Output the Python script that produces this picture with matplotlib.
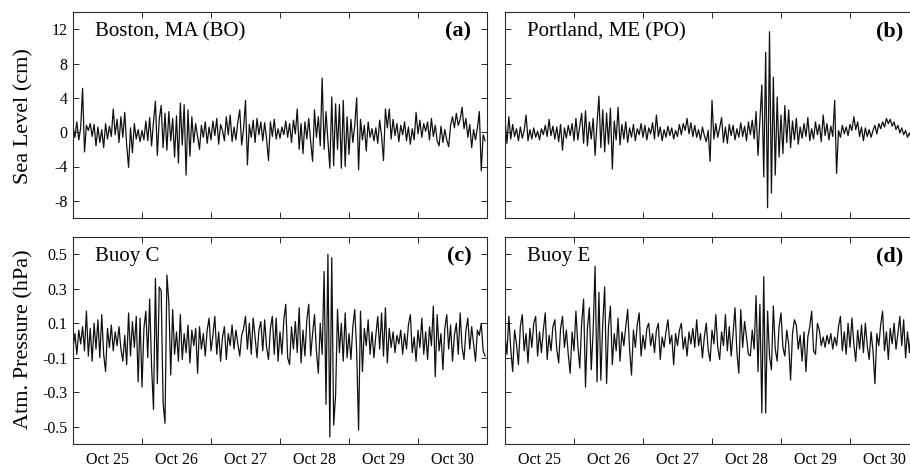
import numpy as np
import matplotlib
matplotlib.use("Agg")
import matplotlib.pyplot as plt

plt.rcParams['font.family'] = ['Liberation Serif', 'DejaVu Serif']
plt.rcParams['axes.unicode_minus'] = False

# Sampling: 36 samples per day, starting Oct 25 00:00
samples_per_day = 36
day_labels = ["Oct 25", "Oct 26", "Oct 27", "Oct 28", "Oct 29", "Oct 30"]

sea_boston = [
    0.8, -0.6, 1.2, -0.9, 0.5, 5.1, -2.3, 0.8, 0.2, 1.0, -0.5, 0.9, -1.6, 0.6, -1.2, 0.3, -1.8, 1.0,
    -0.8, 0.7, -0.5, 2.7, -0.3, 1.5, -1.2, 1.8, -0.6, 2.3, -1.5, -4.1, 0.5, -2.4, 1.0, -0.8, 0.3, -1.1,
    0.2, -0.9, 1.3, -1.0, 1.7, -1.6, 1.2, 3.6, -2.7, 1.5, 3.1, -1.8, 2.2, -2.1, 2.4, -1.0, 1.6, -2.9,
    1.9, -3.6, 3.4, -1.5, 3.2, -5.0, 2.6, -2.8, 1.8, -1.2, 1.0, -0.5, -2.0, 0.8, -0.6, 1.2, -1.3, 0.6,
    -0.9, 1.3, -0.4, 1.6, -1.4, 0.9, 0.2, -1.0, 1.8, -0.3, 2.0, -1.1, 0.6, -0.9, 1.2, 2.6, -1.5, 0.4,
    3.7, -3.8, 0.9, -0.6, 1.4, -1.2, 1.6, -0.3, 1.2, -1.0, 1.1, -0.8, -3.3, 1.2, -0.5, 1.5, -0.8, 0.4,
    -0.7, 0.6, -0.3, 1.3, -0.6, 1.0, -1.2, 1.4, -0.2, 2.7, -2.0, 1.0, -2.5, 1.2, -0.8, 1.6, -1.1, -3.4,
    2.6, -0.6, 1.8, -1.6, 6.3, -2.0, 2.4, -1.0, -4.2, 4.1, -3.9, 3.3, -2.0, 3.2, -4.2, 3.7, -4.0, 1.8,
    -2.6, 1.5, -1.2, 0.8, 4.0, -4.4, 1.5, -0.9, 0.8, -2.2, 1.2, -0.6, 0.4, -1.0, 0.5, -1.3, 1.4, -0.5,
    -3.3, 2.7, 0.5, 2.7, -0.8, 1.5, -0.4, 1.0, -1.1, 0.8, -0.3, 1.2, -1.0, 0.6, -1.4, 0.4, -0.9, 2.3,
    -0.2, 1.4, -0.6, 1.0, 0.1, 1.2, -0.9, 1.6, -0.5, 0.8, -1.0, -1.6, 0.7, -1.2, 0.3, -0.9, -1.7, 0.8,
    1.8, 0.5, 2.2, 0.8, 1.5, 2.9, 0.4, 1.6, -0.6, 0.9, -1.8, 0.3, -0.9, 0.5, 2.4, -4.5, -0.3, -1.0,
]

sea_portland = [
    1.5, -1.3, 1.8, -0.8, 0.9, -0.5, 0.4, -1.0, 0.6, -0.7, 0.2, 2.0, -1.0, 0.3, -0.8, 0.5, -0.6, 0.1,
    -0.9, 0.4, -0.3, 0.8, -0.5, 1.5, -0.4, 0.7, -0.8, 0.6, -1.1, 0.9, -2.1, 0.5, -0.7, 0.8, -0.4, 1.0,
    -1.0, 1.6, -0.9, 0.7, 2.2, -1.3, 2.5, -1.6, 1.2, -0.8, 1.6, -2.7, 1.0, 4.2, -1.8, 2.6, -2.3, 2.2,
    -1.4, 2.8, -4.3, 1.3, -0.9, 2.9, -1.5, 0.9, -0.8, 1.2, -1.2, 0.5, -0.6, 0.9, -1.0, 0.4, -0.3, 1.0,
    -0.6, 0.8, -0.9, 0.5, -0.2, 1.1, -0.8, 2.0, -0.5, 0.6, -1.0, 0.3, -0.6, 0.7, -0.4, 0.5, -0.8, 0.2,
    -0.5, 0.9, -0.3, 1.0, 0.2, 1.6, -0.2, 1.1, -0.5, 0.8, -0.6, 0.3, -0.9, 0.6, -0.4, -1.1, 0.2, -3.4,
    3.7, -0.8, 1.0, -0.6, 0.5, 1.7, -1.2, 0.6, -1.3, 0.9, -0.4, 0.8, -0.9, 0.4, -0.6, 1.1, -0.5, 0.7,
    -1.0, 1.2, -0.3, 1.4, -0.8, 2.4, -2.7, 1.5, 5.5, -5.2, 9.3, -8.8, 11.7, -7.1, 6.4, -5.0, 4.1, -2.9,
    2.0, -2.5, 3.1, -1.2, 2.6, -1.8, 1.3, -0.9, 1.6, -1.4, 0.6, -0.7, 1.0, -0.5, 1.7, -1.0, 0.4, -0.8,
    1.2, -0.3, 0.9, -1.1, 2.0, -0.4, 1.0, -0.9, 0.7, -0.5, 3.7, -4.8, 0.2, -0.6, 0.8, -0.2, 0.6, -0.4,
    0.9, 0.2, 1.8, 0.3, 1.2, -0.5, 0.6, -1.0, 0.5, -0.5, 0.3, -0.6, 0.2, 0.8, -0.2, 1.0, 0.4, 1.2,
    0.6, 1.6, 1.0, 1.5, 0.7, 1.2, 0.3, 0.8, -0.1, 0.5, -0.3, 0.2, -0.6, -0.1, -0.7, -0.3, -0.9, -0.5,
]

pres_buoy_c = [
    -0.05, 0.04, -0.08, 0.06, -0.02, 0.08, -0.06, 0.17, -0.09, 0.07, -0.12, 0.10, -0.05, 0.12, -0.10, 0.15, -0.08, -0.18,
    0.07, -0.04, 0.09, -0.06, 0.05, -0.03, 0.08, -0.05, -0.12, 0.03, -0.14, 0.16, -0.09, 0.11, -0.04, 0.14, -0.24, 0.13,
    -0.27, 0.07, 0.17, -0.10, 0.24, -0.15, -0.40, 0.36, -0.25, 0.31, 0.29, -0.36, -0.48, 0.38, 0.22, -0.20, 0.18, -0.08,
    0.05, -0.12, 0.15, -0.11, 0.04, -0.07, 0.09, -0.13, 0.06, -0.03, 0.07, -0.19, 0.08, -0.05, 0.04, -0.09, 0.06, 0.13,
    -0.06, 0.03, 0.14, -0.08, 0.05, -0.12, 0.02, 0.08, -0.11, 0.04, -0.03, 0.09, -0.05, 0.06, -0.02, -0.09, 0.03, 0.07,
    0.14, -0.05, 0.10, -0.08, 0.13, 0.02, -0.10, 0.06, 0.11, -0.06, 0.12, -0.04, -0.11, 0.07, 0.14, -0.08, 0.13, -0.12,
    0.05, -0.08, 0.12, 0.21, -0.10, -0.14, 0.08, -0.05, 0.11, -0.07, 0.19, -0.13, 0.06, -0.09, 0.12, 0.21, -0.09, 0.04,
    0.15, -0.06, -0.19, 0.10, -0.08, 0.40, -0.37, 0.50, -0.56, 0.48, -0.49, -0.32, 0.18, -0.07, 0.10, -0.12, 0.16, -0.10,
    0.04, -0.11, 0.08, 0.18, -0.06, -0.52, 0.17, -0.18, 0.07, -0.03, 0.12, -0.08, 0.05, -0.10, 0.03, 0.14, -0.05, 0.16,
    -0.09, 0.19, -0.13, 0.07, -0.04, 0.05, -0.07, 0.03, -0.02, 0.06, -0.08, 0.04, -0.05, 0.09, 0.15, -0.07, 0.02, -0.12,
    0.06, -0.04, 0.13, -0.08, 0.05, -0.11, 0.08, -0.03, 0.20, -0.21, 0.15, -0.06, 0.04, -0.17, 0.07, 0.15, -0.05, 0.09,
    -0.12, 0.03, 0.10, -0.08, 0.16, -0.04, -0.11, 0.06, 0.13, -0.05, 0.08, -0.02, -0.12, 0.06, 0.03, 0.10, -0.06, -0.09,
]

pres_buoy_e = [
    0.03, -0.08, 0.14, -0.05, -0.18, 0.06, -0.02, -0.14, 0.08, 0.15, -0.06, 0.04, -0.13, 0.07, -0.04, 0.10, 0.14, -0.09,
    0.05, -0.07, 0.06, 0.16, -0.11, 0.03, -0.06, 0.08, 0.12, -0.05, -0.13, 0.07, 0.14, -0.04, 0.06, -0.08, -0.19, 0.05,
    -0.06, 0.17, -0.03, -0.16, 0.10, 0.24, -0.27, 0.07, 0.19, -0.17, 0.06, 0.43, -0.24, 0.28, -0.23, 0.10, 0.31, -0.25,
    0.08, 0.20, -0.14, 0.04, -0.06, 0.13, -0.12, 0.05, -0.03, 0.08, 0.18, -0.05, -0.20, 0.06, -0.04, 0.09, 0.16, -0.09,
    0.03, -0.05, 0.07, 0.10, -0.03, 0.04, -0.07, 0.06, 0.10, -0.11, 0.02, -0.04, 0.05, 0.12, -0.02, 0.03, -0.14, 0.04,
    -0.03, 0.06, 0.10, -0.05, 0.02, -0.09, 0.05, -0.02, 0.07, -0.04, 0.12, -0.03, 0.04, -0.10, 0.02, 0.10, -0.05, -0.12,
    0.06, -0.02, 0.15, -0.04, -0.11, 0.05, -0.03, 0.15, -0.06, 0.08, -0.09, 0.04, 0.19, -0.07, -0.19, 0.18, -0.04, 0.11,
    0.02, -0.08, -0.09, 0.06, -0.05, 0.26, -0.18, 0.21, -0.42, 0.37, -0.42, 0.17, -0.09, -0.17, 0.20, -0.05, -0.12, 0.08,
    0.16, -0.04, -0.09, 0.06, -0.02, -0.23, 0.04, 0.12, 0.09, -0.05, 0.03, -0.12, 0.05, -0.18, 0.02, 0.08, 0.17, -0.06,
    -0.08, 0.10, 0.06, -0.03, 0.02, -0.04, 0.03, -0.02, 0.04, -0.05, 0.02, -0.03, 0.08, 0.14, -0.06, 0.05, -0.08, 0.10,
    -0.04, 0.13, -0.02, -0.12, 0.06, -0.05, 0.09, -0.07, 0.10, -0.03, -0.11, 0.05, -0.06, -0.25, 0.04, -0.03, 0.09, 0.17,
    -0.06, 0.05, -0.11, 0.07, -0.02, 0.10, -0.05, 0.04, 0.14, -0.03, 0.12, -0.10, 0.05, -0.07, 0.08, -0.04, 0.02, -0.06,
]

panels = [
    ("Boston, MA (BO)", "(a)", sea_boston),
    ("Portland, ME (PO)", "(b)", sea_portland),
    ("Buoy C", "(c)", pres_buoy_c),
    ("Buoy E", "(d)", pres_buoy_e),
]

W, H = 910, 468
fig = plt.figure(figsize=(W / 100, H / 100), dpi=100)

ax_w = 414 / W
lefts = [73 / W, 505 / W]
tops_px = [12, 237]
bots_px = [218, 444]

spine_col = '#2a2a2a'
for k, (name, tag, vals) in enumerate(panels):
    row, col = divmod(k, 2)
    bottom = 1 - bots_px[row] / H
    height = (bots_px[row] - tops_px[row]) / H
    ax = fig.add_axes([lefts[col], bottom, ax_w, height])
    t = np.arange(len(vals)) / samples_per_day
    ax.plot(t, vals, color='#111111', lw=0.9)
    ax.set_xlim(0, 6)
    if row == 0:
        ax.set_ylim(-10, 14)
        ax.set_yticks([-8, -4, 0, 4, 8, 12])
    else:
        ax.set_ylim(-0.6, 0.6)
        ax.set_yticks([-0.5, -0.3, -0.1, 0.1, 0.3, 0.5])
        ax.set_yticklabels(["-0.5", "-0.3", "-0.1", "0.1", "0.3", "0.5"])
    # day boundaries as (unlabelled) major ticks, day names centred at noon
    ax.set_xticks([1, 2, 3, 4, 5])
    ax.set_xticklabels([])
    ax.set_xticks(np.arange(6) + 0.5, minor=True)
    if row == 1:
        ax.set_xticklabels(day_labels, minor=True)
    else:
        ax.set_xticklabels([], minor=True)
    ax.tick_params(axis='x', which='minor', length=0, pad=6, labelsize=11.5)
    ax.tick_params(axis='both', which='major', direction='in', length=4.5, width=0.7,
                   top=True, right=True, color=spine_col, labelsize=11.5, pad=4)
    if col == 1:
        ax.set_yticklabels([])
    for s in ax.spines.values():
        s.set_color(spine_col)
        s.set_linewidth(0.8)
    ax.text(0.053, 0.905, name, transform=ax.transAxes, ha='left', va='center', fontsize=15)
    ax.text(0.962, 0.905, tag, transform=ax.transAxes, ha='right', va='center',
            fontsize=16, fontweight='bold')

fig.text(24 / W, 1 - 116 / H, "Sea Level (cm)", rotation=90, ha='center', va='center', fontsize=16)
fig.text(24 / W, 1 - 339 / H, "Atm. Pressure (hPa)", rotation=90, ha='center', va='center', fontsize=16)

fig.savefig("out.png", dpi=100)
